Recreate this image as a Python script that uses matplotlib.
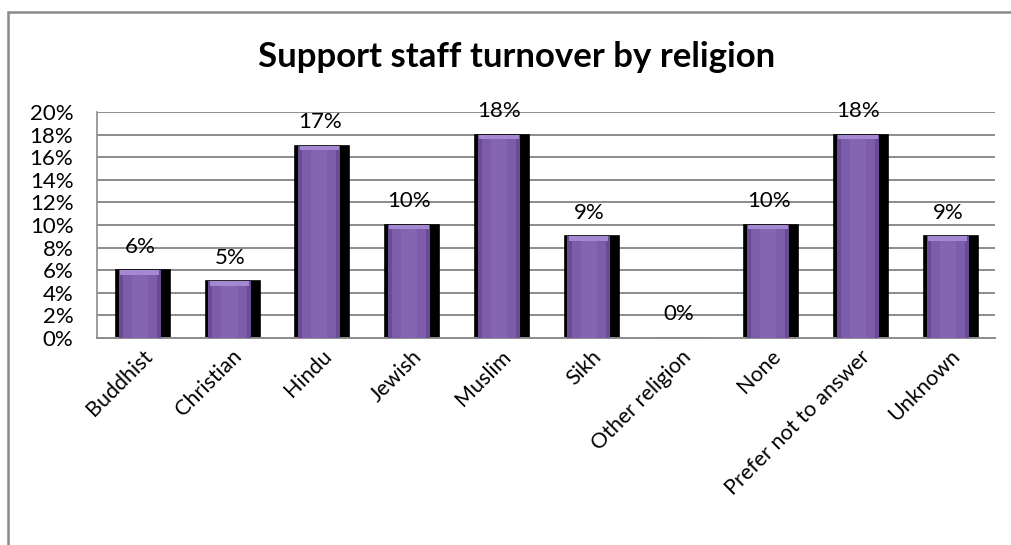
import matplotlib
matplotlib.use("Agg")
import matplotlib.pyplot as plt
from matplotlib.lines import Line2D
from matplotlib.ticker import PercentFormatter
import numpy as np

religions = ["Buddhist", "Christian", "Hindu", "Jewish", "Muslim", "Sikh",
             "Other religion", "None", "Prefer not to answer", "Unknown"]
turnover = [0.06, 0.05, 0.17, 0.10, 0.18, 0.09, 0.0, 0.10, 0.18, 0.09]
yticks = np.arange(0, 0.201, 0.02)

plt.rcParams["font.family"] = ["Lato", "DejaVu Sans"]

fig = plt.figure(figsize=(10.11, 5.45), dpi=100)
ax = fig.add_axes([0.096, 0.380, 0.888, 0.4145])

# outer chart frame: only the top and left edges fall inside the image
fx, fy = 8 / 1011, 1 - 12 / 545
fig.lines.append(Line2D([fx, fx, 1.01], [-0.01, fy, fy],
                        transform=fig.transFigure, color="#8a8a8a",
                        linewidth=1.8, solid_joinstyle="miter"))

x = np.arange(len(religions))
vals = np.array(turnover)

# black drop shadow, then the purple bar with soft edges and a lighter cap
ax.bar(x + 0.01, vals, width=0.6, color="black", edgecolor="black",
       linewidth=1.2, zorder=2)
ax.bar(x - 0.025, vals, width=0.47, color="#6a4b95", linewidth=0, zorder=3)
ax.bar(x - 0.025, vals, width=0.38, color="#7d5cab", linewidth=0, zorder=3)
ax.bar(x - 0.025, vals, width=0.18, color="#8465b2", linewidth=0, zorder=3)
cap = np.minimum(vals, 0.004)
ax.bar(x - 0.025, cap, bottom=vals - cap, width=0.44, color="#a488d2",
       linewidth=0, zorder=4)

for xi, v in zip(x, vals):
    ax.annotate(f"{v:.0%}", (xi - 0.02, v), xytext=(0, 17),
                textcoords="offset points", ha="center", va="center",
                fontsize=16, zorder=5)

ax.set_xlim(-0.5, len(religions) - 0.5)
ax.set_ylim(0, 0.2)
ax.set_yticks(yticks)
ax.yaxis.set_major_formatter(PercentFormatter(1.0, decimals=0))
ax.grid(axis="y", color="#8c8c8c", linewidth=1.4, zorder=1)
ax.set_axisbelow(True)

for s in ["top", "right"]:
    ax.spines[s].set_visible(False)
ax.spines["left"].set_color("#8c8c8c")
ax.spines["left"].set_linewidth(1.2)
ax.spines["bottom"].set_color("#8c8c8c")
ax.spines["bottom"].set_linewidth(1.4)

ax.tick_params(axis="y", length=0, labelsize=16, pad=17)
ax.tick_params(axis="x", length=0, labelsize=15.5, pad=6)
ax.set_xticks(x)
ax.set_xticklabels(religions, rotation=45, ha="right", rotation_mode="anchor")

fig.text(0.511, 1 - 57 / 545, "Support staff turnover by religion",
         ha="center", va="center", fontsize=25, fontweight="bold")

fig.savefig("out.png", dpi=100, facecolor="white")
